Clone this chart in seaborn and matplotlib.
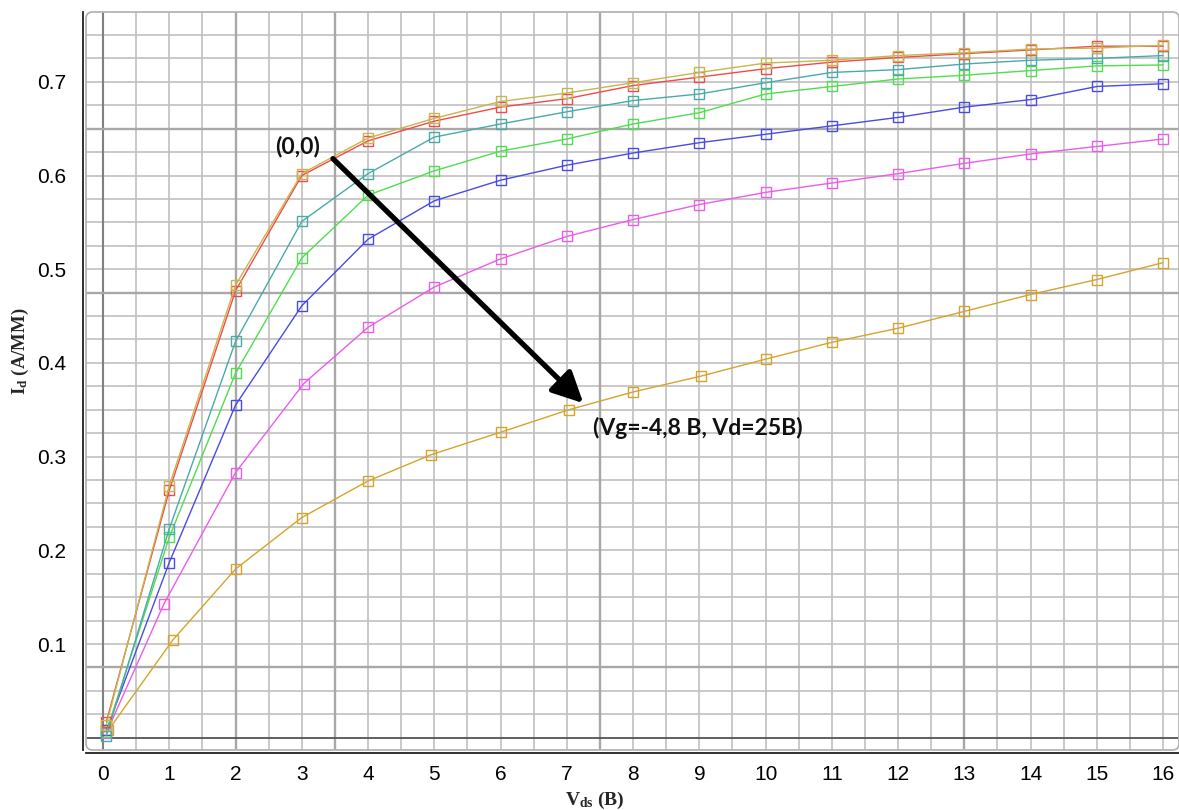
import numpy as np
import pandas as pd
import matplotlib
matplotlib.use("Agg")
import matplotlib.pyplot as plt
import seaborn as sns
from matplotlib.patches import FancyBboxPatch
from matplotlib.ticker import MultipleLocator, FuncFormatter

# ---------------- data ----------------
VDS = [0.05, 1, 2, 3, 4, 5, 6, 7, 8, 9, 10, 11, 12, 13, 14, 15, 16]
VDS_MAGENTA = [0.05, 0.92, 2, 3.03, 4, 5, 6, 7, 8, 9, 10, 11, 12, 13, 14, 15, 16]
VDS_GOLD = [0.08, 1.05, 2, 3, 4, 4.95, 6, 7.03, 8, 9.03, 10, 11, 12, 13, 14, 15, 16]

ID_OLIVE = [0.014, 0.269, 0.483, 0.602, 0.640, 0.661, 0.679, 0.688, 0.699, 0.710,
            0.720, 0.723, 0.728, 0.731, 0.735, 0.736, 0.739]
ID_RED = [0.017, 0.264, 0.477, 0.600, 0.637, 0.658, 0.673, 0.682, 0.696, 0.705,
          0.714, 0.721, 0.726, 0.730, 0.734, 0.738, 0.738]
ID_TEAL = [0.002, 0.223, 0.423, 0.551, 0.602, 0.641, 0.655, 0.668, 0.680, 0.687,
           0.699, 0.710, 0.713, 0.719, 0.723, 0.725, 0.728]
ID_GREEN = [0.006, 0.214, 0.389, 0.512, 0.579, 0.605, 0.626, 0.639, 0.655, 0.667,
            0.687, 0.695, 0.703, 0.707, 0.712, 0.717, 0.718]
ID_BLUE = [0.008, 0.187, 0.355, 0.461, 0.532, 0.573, 0.595, 0.611, 0.624, 0.635,
           0.644, 0.653, 0.662, 0.673, 0.681, 0.695, 0.698]
ID_MAGENTA = [0.005, 0.143, 0.283, 0.378, 0.438, 0.481, 0.511, 0.535, 0.553, 0.569,
              0.582, 0.592, 0.602, 0.613, 0.623, 0.631, 0.639]
ID_GOLD = [0.008, 0.104, 0.180, 0.235, 0.274, 0.302, 0.326, 0.350, 0.369, 0.386,
           0.404, 0.422, 0.437, 0.455, 0.473, 0.489, 0.507]

SERIES = [  # drawn bottom to top
    ("gold", VDS_GOLD, ID_GOLD, "#d6a428"),
    ("magenta", VDS_MAGENTA, ID_MAGENTA, "#ec5cec"),
    ("blue", VDS, ID_BLUE, "#4a4ae6"),
    ("green", VDS, ID_GREEN, "#4ede4e"),
    ("teal", VDS, ID_TEAL, "#4aaaaa"),
    ("red", VDS, ID_RED, "#ee4c4c"),
    ("olive", VDS, ID_OLIVE, "#c8b64c"),
]

LABEL_ZERO = "(0,0)"
LABEL_END = "(Vg=-4,8 B, Vd=25B)"
XLABEL = r"V$_{\mathrm{ds}}$ (B)"
YLABEL = r"I$_{\mathrm{d}}$ (A/MM)"

# ---------------- style ----------------
sns.set_style("white")
plt.rcParams["font.family"] = ["Liberation Sans", "DejaVu Sans"]
plt.rcParams["mathtext.fontset"] = "custom"
plt.rcParams["mathtext.rm"] = "Liberation Serif:bold"
plt.rcParams["mathtext.it"] = "Liberation Serif:bold"
plt.rcParams["mathtext.bf"] = "Liberation Serif:bold"

W, H = 1179, 810
fig = plt.figure(figsize=(W / 100, H / 100), dpi=100)
ax = fig.add_axes([86 / W, 60 / H, 1093 / W, 738 / H])

frames = []
for name, xs, ys, col in SERIES:
    frames.append(pd.DataFrame({"Vds": xs, "Id": ys, "curve": name}))
df = pd.concat(frames, ignore_index=True)

for name, xs, ys, col in SERIES:
    sub = df[df["curve"] == name]
    sns.lineplot(data=sub, x="Vds", y="Id", ax=ax, color=col, lw=1.0,
                 marker="s", markersize=7.5, markerfacecolor="none",
                 markeredgecolor=col, markeredgewidth=1.0, estimator=None,
                 sort=False, legend=False, zorder=3)

ax.set_xlim(-0.257, 16.24)
ax.set_ylim(-0.0131, 0.7745)

# ticks
ax.xaxis.set_major_locator(MultipleLocator(1))
ax.xaxis.set_minor_locator(MultipleLocator(0.5))
ax.yaxis.set_major_locator(MultipleLocator(0.1))
ax.yaxis.set_minor_locator(MultipleLocator(0.025))
ax.yaxis.set_major_formatter(FuncFormatter(lambda v, p: "" if abs(v) < 1e-9 else f"{v:.1f}"))
ax.xaxis.set_major_formatter(FuncFormatter(lambda v, p: f"{int(round(v))}"))
ax.tick_params(axis="both", which="both", direction="out", color="#202020", width=1.2,
               labelsize=15, labelcolor="black")
ax.tick_params(axis="x", which="both", length=3.2, pad=5)
ax.tick_params(axis="y", which="both", length=3.6, pad=8)

# grid
ax.set_axisbelow(True)
ax.grid(True, which="both", color="#c0c0c0", lw=1.2)
for xv in [2, 3.5, 7.5, 13]:
    ax.axvline(xv, color="#a8a8a8", lw=1.7, zorder=0.8)
ax.axvline(0, color="#808080", lw=1.5, zorder=0.8)
for yv in [0.65, 0.475, 0.075]:
    ax.axhline(yv, color="#a8a8a8", lw=1.7, zorder=0.8)
ax.axhline(0, color="#454545", lw=1.1, zorder=0.8)

# spines
for s in ["top", "right"]:
    ax.spines[s].set_visible(False)
for s in ["left", "bottom"]:
    ax.spines[s].set_position(("outward", 2.5))
    ax.spines[s].set_color("#202020")
    ax.spines[s].set_linewidth(1.3)

frame = FancyBboxPatch((0, 0), 1, 1, boxstyle="round,pad=0,rounding_size=0.006",
                       transform=ax.transAxes, fc="none", ec="#b4b4b4", lw=1.3,
                       mutation_aspect=1093 / 738, clip_on=False, zorder=0.9)
ax.add_patch(frame)

# annotations
ax.annotate("", xy=(7.25, 0.357), xytext=(3.47, 0.618),
            arrowprops=dict(arrowstyle="-|>,head_length=0.85,head_width=0.42",
                            lw=3.8, color="black", shrinkA=0, shrinkB=0,
                            mutation_scale=22), zorder=5)
ax.text(2.93, 0.631, LABEL_ZERO, fontsize=16.5, fontweight="bold",
        family=["Lato", "DejaVu Sans"], ha="center", va="center", color="#111111", zorder=6)
ax.text(7.40, 0.3305, LABEL_END, fontsize=16.5, fontweight="bold",
        family=["Lato", "DejaVu Sans"], ha="left", va="center", color="#111111", zorder=6)

# axis labels
ax.set_xlabel("")
ax.set_ylabel("")
fig.text(595 / W, 1 - 800 / H, XLABEL, fontsize=14, ha="center", va="center",
         family="Liberation Serif", fontweight="bold")
fig.text(20 / W, 1 - 351 / H, YLABEL, fontsize=13.5, ha="center", va="center", rotation=90,
         family="Liberation Serif", fontweight="bold")

fig.savefig("out.png", dpi=100)
